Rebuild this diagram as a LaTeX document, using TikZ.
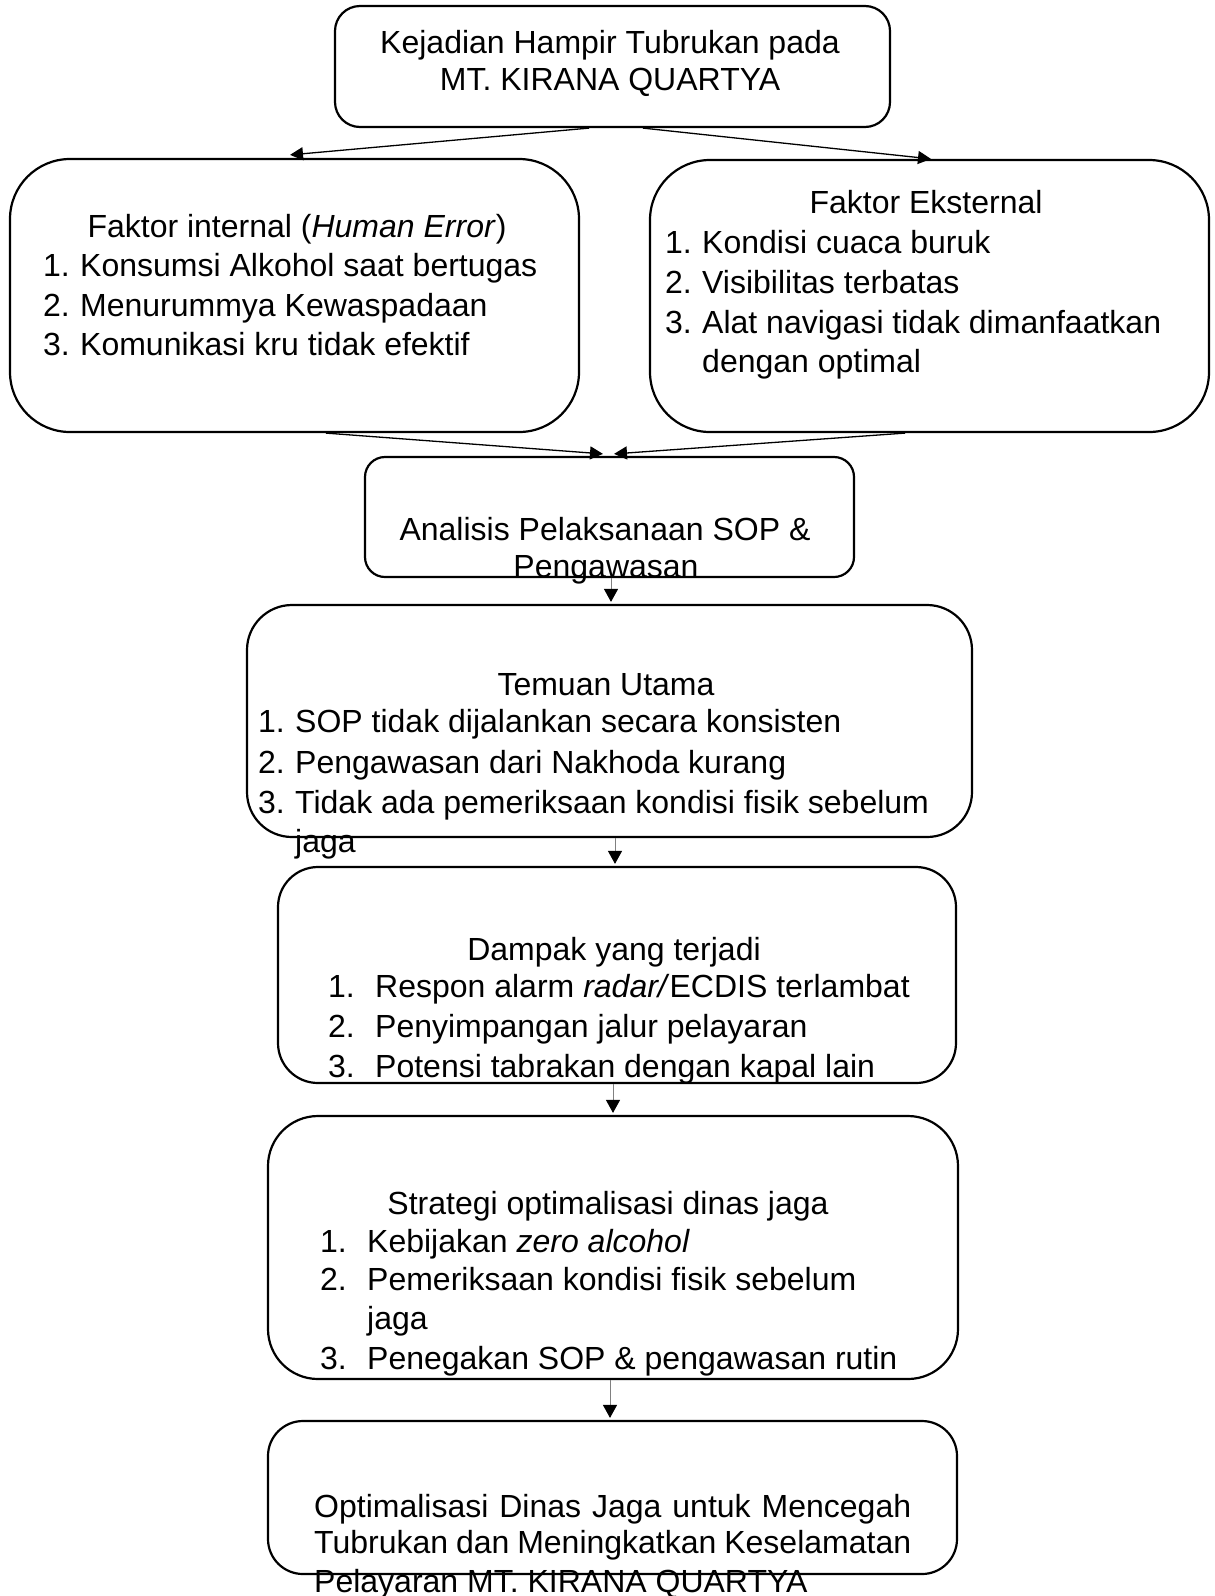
\documentclass[tikz,border=0pt]{standalone}
\usepackage{fontspec}
\setmainfont{Liberation Sans}
\usetikzlibrary{arrows.meta}
\begin{document}
\begin{tikzpicture}[x=1pt,y=-1pt,
  box/.style={draw, line width=2.2pt, inner sep=0pt},
  txt/.style={inner sep=0pt, anchor=base west, font=\fontsize{32pt}{40pt}\selectfont},
  ctxt/.style={txt, anchor=base},
  conn/.style={line width=1.3pt, -{Triangle[length=13pt,width=13pt]}},
  vconn/.style={line width=1pt, draw=gray, -{Triangle[length=13pt,width=14pt,color=black]}}]
\useasboundingbox (0,0) rectangle (1215,1596);

% boxes
\node[box, rounded corners=25pt, minimum width=555pt, minimum height=121pt] (b1) at (612.5,66.5) {};
\node[box, rounded corners=60pt, minimum width=569pt, minimum height=273pt] (b2) at (294.5,295.5) {};
\node[box, rounded corners=60pt, minimum width=559pt, minimum height=272pt] (b3) at (929.5,296) {};
\node[box, rounded corners=20pt, minimum width=489pt, minimum height=120pt] (b4) at (609.5,517) {};
\node[box, rounded corners=45pt, minimum width=725pt, minimum height=232pt] (b5) at (609.5,721) {};
\node[box, rounded corners=40pt, minimum width=678pt, minimum height=216pt] (b6) at (617,975) {};
\node[box, rounded corners=50pt, minimum width=690pt, minimum height=263pt] (b7) at (613,1247.5) {};
\node[box, rounded corners=35pt, minimum width=689pt, minimum height=153pt] (b8) at (612.5,1497.5) {};

% connectors
\draw[conn] ([xshift=-23.5pt]b1.south) -- ([xshift=-4.5pt,yshift=3pt]b2.north);
\draw[conn] ([xshift=30.5pt]b1.south) -- ([xshift=1.5pt]b3.north);
\draw[conn] ([xshift=31.5pt]b2.south) -- ([xshift=-6.5pt,yshift=2pt]b4.north);
\draw[conn] ([xshift=-24.5pt]b3.south) -- ([xshift=4.5pt,yshift=2pt]b4.north);
\draw[vconn] ([xshift=1.5pt]b4.south) -- ([xshift=1.5pt,yshift=2pt]b5.north);
\draw[vconn] ([xshift=5.5pt]b5.south) -- ([xshift=-2pt,yshift=2pt]b6.north);
\draw[vconn] ([xshift=-4pt]b6.south) -- ([xshift=0pt,yshift=2pt]b7.north);
\draw[vconn] ([xshift=-3pt]b7.south) -- ([xshift=-2.5pt,yshift=2pt]b8.north);

% box 1
\node[ctxt] (t1a) at (610,53) {Kejadian Hampir Tubrukan pada};
\node[ctxt] (t1b) at (610,90) {MT. KIRANA QUARTYA};

% box 2
\node[ctxt] (t2a) at (297,237) {Faktor internal (\textit{Human Error})};
\node[txt] (t2b) at (43,276) {\makebox[37pt][l]{1.}Konsumsi Alkohol saat bertugas};
\node[txt] (t2c) at (43,316) {\makebox[37pt][l]{2.}Menurummya Kewaspadaan};
\node[txt] (t2d) at (43,355) {\makebox[37pt][l]{3.}Komunikasi kru tidak efektif};

% box 3
\node[ctxt] (t3a) at (926,213) {Faktor Eksternal};
\node[txt] (t3b) at (665,253) {\makebox[37pt][l]{1.}Kondisi cuaca buruk};
\node[txt] (t3c) at (665,293) {\makebox[37pt][l]{2.}Visibilitas terbatas};
\node[txt] (t3d) at (665,333) {\makebox[37pt][l]{3.}Alat navigasi tidak dimanfaatkan};
\node[txt] (t3e) at (702,372) {dengan optimal};

% box 4
\node[ctxt] (t4a) at (605,540) {Analisis Pelaksanaan SOP \&};
\node[ctxt] (t4b) at (606,577) {Pengawasan};

% box 5
\node[ctxt] (t5a) at (606,695) {Temuan Utama};
\node[txt] (t5b) at (258,732) {\makebox[37pt][l]{1.}SOP tidak dijalankan secara konsisten};
\node[txt] (t5c) at (258,773) {\makebox[37pt][l]{2.}Pengawasan dari Nakhoda kurang};
\node[txt] (t5d) at (258,813) {\makebox[37pt][l]{3.}Tidak ada pemeriksaan kondisi fisik sebelum};
\node[txt] (t5e) at (295,852) {jaga};

% box 6
\node[ctxt] (t6a) at (614,960) {Dampak yang terjadi};
\node[txt] (t6b) at (328,997) {\makebox[47pt][l]{1.}Respon alarm \textit{radar/}ECDIS terlambat};
\node[txt] (t6c) at (328,1037) {\makebox[47pt][l]{2.}Penyimpangan jalur pelayaran};
\node[txt] (t6d) at (328,1077) {\makebox[47pt][l]{3.}Potensi tabrakan dengan kapal lain};

% box 7
\node[ctxt] (t7a) at (608,1214) {Strategi optimalisasi dinas jaga};
\node[txt] (t7b) at (320,1252) {\makebox[47pt][l]{1.}Kebijakan \textit{zero alcohol}};
\node[txt] (t7c) at (320,1290) {\makebox[47pt][l]{2.}Pemeriksaan kondisi fisik sebelum};
\node[txt] (t7d) at (367,1329) {jaga};
\node[txt] (t7e) at (320,1369) {\makebox[47pt][l]{3.}Penegakan SOP \& pengawasan rutin};

% box 8
\node[txt] (t8a) at (314,1517) {\makebox[597pt][s]{Optimalisasi Dinas Jaga untuk Mencegah}};
\node[txt] (t8b) at (314,1553) {\makebox[597pt][s]{Tubrukan dan Meningkatkan Keselamatan}};
\node[txt] (t8c) at (314,1592) {Pelayaran MT. KIRANA QUARTYA};
\end{tikzpicture}
\end{document}
